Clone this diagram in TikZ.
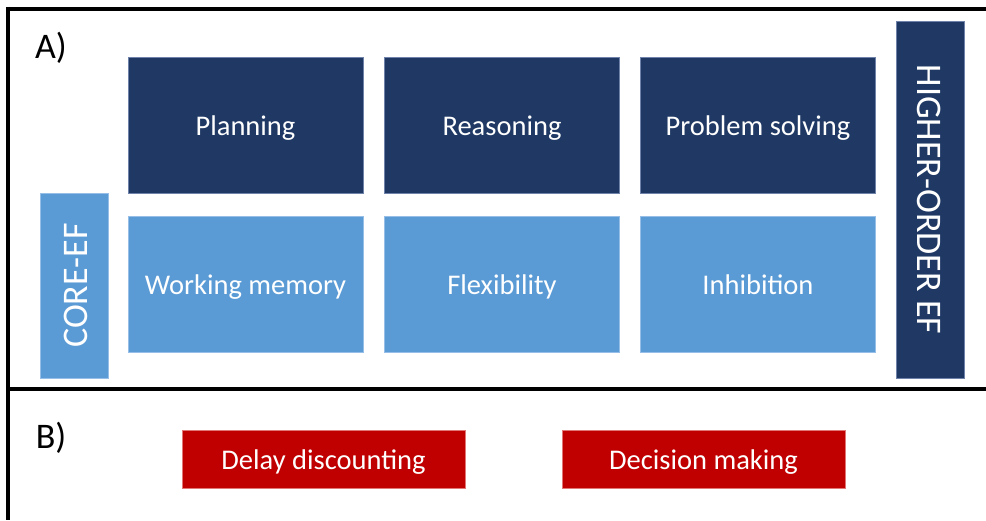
\documentclass[tikz,border=0pt]{standalone}
\usepackage{fontspec}
\setmainfont{Carlito}
\definecolor{navy}{RGB}{31,56,100}
\definecolor{lblue}{RGB}{91,155,213}
\definecolor{dred}{RGB}{192,0,0}
\definecolor{navyedge}{RGB}{110,130,170}
\definecolor{lblueedge}{RGB}{150,190,230}
\definecolor{redge}{RGB}{225,120,120}
\begin{document}
\begin{tikzpicture}[x=1pt,y=-1pt,
  box/.style={rectangle, inner sep=0pt, text=white, font=\fontsize{28.5}{32}\selectfont, line width=0.6pt, text height=21pt, text depth=-1pt},
  higher/.style={box, fill=navy, draw=navyedge, minimum width=235pt, minimum height=136pt},
  core/.style={box, fill=lblue, draw=lblueedge, minimum width=235pt, minimum height=136pt},
  redbox/.style={box, fill=dred, draw=redge, minimum width=283pt, minimum height=58pt},
  sidebox/.style={box, minimum height=68pt, font=\fontsize{36}{40}\selectfont, text height=26pt, text depth=0pt},
  panel/.style={font=\fontsize{36}{40}\selectfont}
]
\useasboundingbox (0,0) rectangle (986,520);
\fill[white] (0,0) rectangle (986,520);
% frame lines
\coordinate (tl) at (6,8.5);
\coordinate (tr) at (986,8.5);
\coordinate (bl) at (8,520);
\coordinate (ml) at (8,389);
\coordinate (mr) at (986,389);
\draw[line width=4pt] (tr) -- (tl);
\draw[line width=4pt] (8,6.5) -- (bl);
\draw[line width=4pt] (ml) -- (mr);
% labels
\node[panel] (A) at (51,48) {A)};
\node[panel] (B) at (51,438) {B)};
% higher-order boxes
\node[higher] (plan) at (245.5,125) {Planning};
\node[higher] (reas) at (502,125) {Reasoning};
\node[higher] (prob) at (758,125) {Problem solving};
% core boxes
\node[core] (wm) at (245.5,284) {Working memory};
\node[core] (flex) at (502,284) {Flexibility};
\node[core] (inh) at (758,284) {Inhibition};
% side boxes
\node[sidebox, fill=lblue, draw=lblueedge, minimum width=185pt, rotate=90] (coreef) at (74,285.5) {CORE-EF};
\node[sidebox, fill=navy, draw=navyedge, minimum width=357pt, rotate=-90] (hoef) at (930.5,199.5) {HIGHER-ORDER EF};
% B boxes
\node[redbox] (dd) at (323.5,459) {Delay discounting};
\node[redbox] (dm) at (703.5,459) {Decision making};
\end{tikzpicture}
\end{document}
